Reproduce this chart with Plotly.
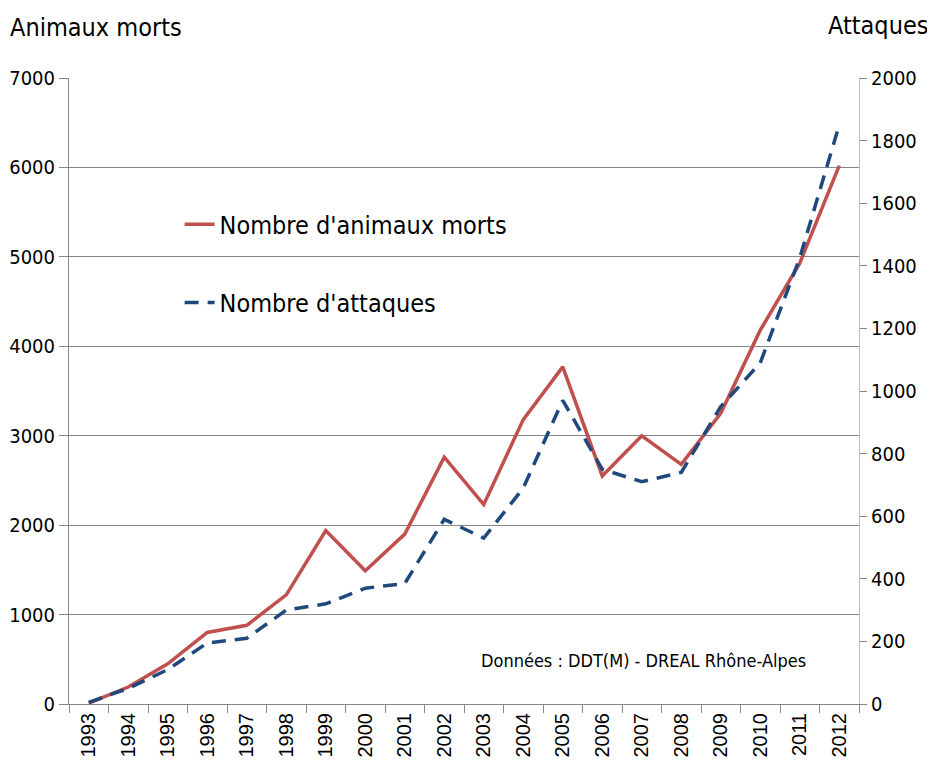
import plotly.graph_objects as go

years = [str(y) for y in range(1993, 2013)]
animaux_morts = [10, 190, 450, 800, 880, 1220, 1940, 1490, 1900, 2760,
                 2230, 3180, 3770, 2550, 3000, 2680, 3250, 4180, 4930, 6020]
attaques = [5, 50, 110, 195, 210, 300, 320, 370, 385, 590,
            530, 690, 970, 750, 710, 740, 950, 1090, 1425, 1850]

NARROW = "Liberation Sans Narrow, DejaVu Sans Condensed, Arial Narrow, sans-serif"
GRID = "#868686"

fig = go.Figure()
fig.add_trace(go.Scatter(
    x=years, y=animaux_morts, mode="lines", name="Nombre d'animaux morts",
    line=dict(color="#C0504D", width=3.5), yaxis="y", legend="legend"))
fig.add_trace(go.Scatter(
    x=years, y=attaques, mode="lines", name="Nombre d'attaques",
    line=dict(color="#1F497D", width=3.5, dash="14px,9px"), yaxis="y2", legend="legend2"))

fig.update_layout(
    width=927, height=759,
    margin=dict(l=61, r=76, t=70, b=63),
    paper_bgcolor="white", plot_bgcolor="white",
    showlegend=True,
    font=dict(family=NARROW, color="black"),
    xaxis=dict(type="category", range=[-0.5, len(years) - 0.5],
               tickson="boundaries", ticks="outside", ticklen=8,
               tickcolor=GRID, showline=True, linecolor=GRID, linewidth=1,
               tickangle=-90, showgrid=False, automargin=False,
               tickfont=dict(family="Liberation Sans, Arial, sans-serif", size=20)),
    yaxis=dict(range=[0, 7000], dtick=1000, showgrid=True, gridcolor=GRID, gridwidth=1,
               showline=True, linecolor=GRID, ticks="outside", ticklen=9, tickcolor=GRID,
               zeroline=False, automargin=False, tickfont=dict(size=20, family=NARROW)),
    yaxis2=dict(range=[0, 2000], dtick=200, overlaying="y", side="right", showgrid=False,
                showline=True, linecolor="#BBBBBB", ticks="outside", ticklen=7,
                tickcolor=GRID, zeroline=False, automargin=False,
                tickfont=dict(size=20, family=NARROW)),
    legend=dict(x=0.14, y=0.766, xanchor="left", yanchor="middle", visible=True,
                bgcolor="rgba(0,0,0,0)", font=dict(size=25, family=NARROW)),
    legend2=dict(x=0.14, y=0.641, xanchor="left", yanchor="middle", visible=True,
                 bgcolor="rgba(0,0,0,0)", font=dict(size=25, family=NARROW)),
    annotations=[
        dict(text="Animaux morts", xref="paper", yref="paper", x=-0.0772, y=1.0,
             xanchor="left", yanchor="bottom", yshift=34, showarrow=False,
             font=dict(size=25, family=NARROW)),
        dict(text="Attaques", xref="paper", yref="paper", x=1.0899, y=1.0,
             xanchor="right", yanchor="bottom", yshift=36, showarrow=False,
             font=dict(size=25, family=NARROW)),
        dict(text="Données : DDT(M) - DREAL Rhône-Alpes", xref="paper", yref="paper",
             x=0.935, y=0.07, xanchor="right", yanchor="middle", showarrow=False,
             font=dict(size=18, family=NARROW)),
    ],
)

fig.write_html("out.html")
